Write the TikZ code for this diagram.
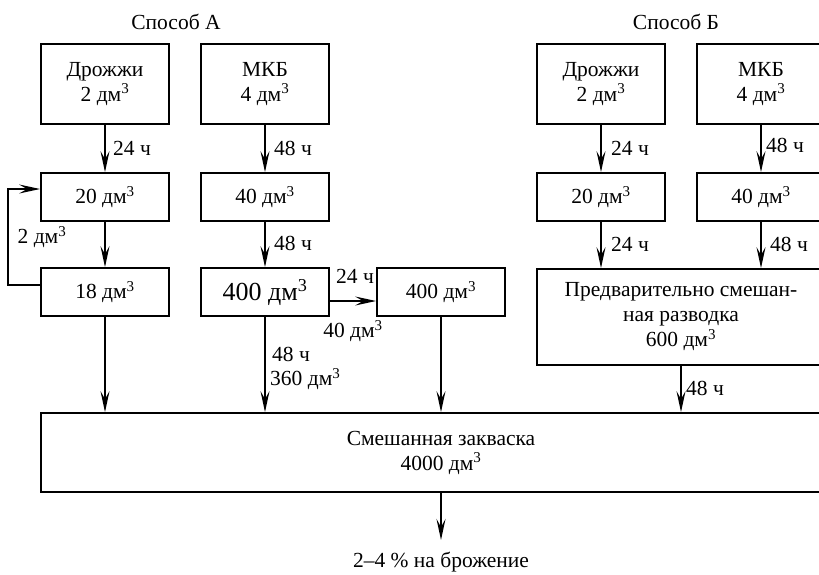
\documentclass[tikz,border=0pt]{standalone}
\usepackage{fontspec}
\setmainfont{Liberation Serif}
\usetikzlibrary{arrows.meta}
\newcommand{\dmc}{дм\textsuperscript{3}}
\begin{document}
\begin{tikzpicture}[x=1pt,y=-1pt,
  box/.style={draw, line width=1.8pt, inner sep=0pt, align=center, font=\fontsize{21.5}{25}\selectfont},
  sbox/.style={box, minimum width=128pt, minimum height=80pt},
  mbox/.style={box, minimum width=128pt, minimum height=48pt},
  arr/.style={-{Stealth[length=21pt,width=9pt,inset=8pt]}, line width=1.6pt},
  lbl/.style={font=\fontsize{21.5}{25}\selectfont, inner sep=0pt, align=left}
]
\useasboundingbox (0,0) rectangle (819,574);
\clip (0,0) rectangle (819,574);

% titles
\node[lbl] (sA) at (176,22) {Способ А};
\node[lbl] (sB) at (676,22) {Способ Б};

% method A
\node[sbox] (dA) at (105,84) {Дрожжи\\2 \dmc};
\node[sbox] (mA) at (265,84) {МКБ\\4 \dmc};
\node[mbox] (a20) at (105,197) {20 \dmc};
\node[mbox] (a40) at (265,197) {40 \dmc};
\node[mbox] (a18) at (105,292) {18 \dmc};
\node[mbox, font=\fontsize{26}{30}\selectfont] (a400) at (265,292) {400 \dmc};
\node[mbox] (a400r) at (441,292) {400 \dmc};

% method B
\node[sbox] (dB) at (601,84) {Дрожжи\\2 \dmc};
\node[sbox] (mB) at (761,84) {МКБ\\4 \dmc};
\node[mbox] (b20) at (601,197) {20 \dmc};
\node[mbox] (b40) at (761,197) {40 \dmc};
\node[box, minimum width=288pt, minimum height=96pt] (pre) at (681,317) {Предварительно смешан-\\ная разводка\\600 \dmc};

% common
\node[box, minimum width=800pt, minimum height=79pt] (big) at (441,452.5) {Смешанная закваска\\4000 \dmc};
\coordinate (outEnd) at (441,540);
\node[lbl] (outT) at (441,562) {2–4 \% на брожение};

% arrows A
\draw[arr] (dA) -- (a20);
\draw[arr] (mA) -- (a40);
\draw[arr] (a20) -- (a18);
\draw[arr] (a40) -- (a400);
\draw[arr] ([yshift=-9pt]a400.east) -- ([yshift=-9pt]a400r.west);
\draw[arr] ([yshift=7pt]a18.west) -- ++(-32,0) |- ([yshift=8pt]a20.west);
\draw[arr] (a18.south) -- (a18.south |- big.north);
\draw[arr] (a400.south) -- (a400.south |- big.north);
\draw[arr] (a400r.south) -- (a400r.south |- big.north);

% arrows B
\draw[arr] (dB) -- (b20);
\draw[arr] (mB) -- (b40);
\draw[arr] (b20.south) -- (b20.south |- pre.north);
\draw[arr] (b40.south) -- (b40.south |- pre.north);
\draw[arr] (pre.south) -- (pre.south |- big.north);

% output
\draw[arr] (big.south) -- (outEnd);

% labels
\node[lbl, anchor=west] (l1) at (113,148) {24 ч};
\node[lbl, anchor=west] (l2) at (274,148) {48 ч};
\node[lbl, anchor=west] (l3) at (274,243) {48 ч};
\node[lbl] (l4) at (42,237) {2 \dmc};
\node[lbl] (l5) at (355,276) {24 ч};
\node[lbl] (l6) at (353,331) {40 \dmc};
\node[lbl, anchor=west] (l7) at (272,354) {48 ч};
\node[lbl, anchor=west] (l8) at (270,379) {360 \dmc};
\node[lbl, anchor=west] (l9) at (611,148) {24 ч};
\node[lbl, anchor=west] (l10) at (766,145) {48 ч};
\node[lbl, anchor=west] (l11) at (611,244) {24 ч};
\node[lbl, anchor=west] (l12) at (770,244) {48 ч};
\node[lbl, anchor=west] (l13) at (686,388) {48 ч};
\end{tikzpicture}
\end{document}
